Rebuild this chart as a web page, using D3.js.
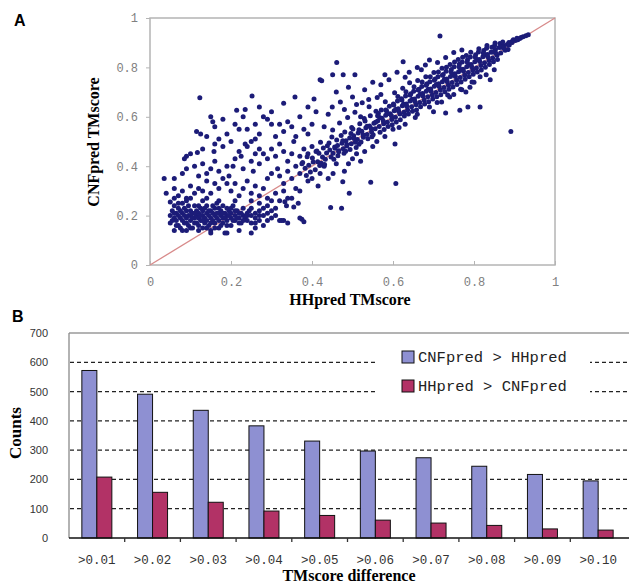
<!DOCTYPE html>
<html><head><meta charset="utf-8">
<script src="https://cdn.jsdelivr.net/npm/d3@7"></script>
<style>body{margin:0;background:#fff}svg{display:block}</style>
</head><body>
<script>
// ---------- Panel A data (HHpred TMscore, CNFpred TMscore) ----------
const scatterTicks = [0, 0.2, 0.4, 0.6, 0.8, 1];
const lowCluster = [
[0.05,0.20],[0.05,0.17],[0.055,0.22],[0.06,0.19],[0.06,0.14],[0.06,0.24],[0.065,0.21],[0.065,0.18],[0.07,0.16],[0.07,0.20],[0.07,0.23],[0.075,0.19],[0.075,0.15],[0.08,0.21],[0.08,0.18],[0.08,0.25],[0.085,0.17],[0.085,0.20],[0.09,0.22],[0.09,0.14],[0.09,0.19],[0.095,0.16],[0.095,0.24],[0.10,0.20],[0.10,0.18],[0.10,0.22],[0.105,0.15],[0.105,0.21],[0.11,0.19],[0.11,0.17],[0.11,0.24],[0.115,0.20],[0.115,0.22],[0.12,0.16],[0.12,0.19],[0.12,0.21],[0.125,0.18],[0.125,0.23],[0.13,0.20],[0.13,0.15],[0.13,0.22],[0.135,0.19],[0.135,0.17],[0.14,0.21],[0.14,0.24],[0.14,0.18],[0.145,0.20],[0.145,0.16],[0.15,0.22],[0.15,0.19],[0.15,0.14],[0.155,0.21],[0.155,0.18],[0.16,0.23],[0.16,0.20],[0.16,0.17],[0.165,0.19],[0.165,0.25],[0.17,0.21],[0.17,0.18],[0.17,0.15],[0.175,0.22],[0.175,0.20],[0.18,0.19],[0.18,0.24],[0.18,0.17],[0.185,0.21],[0.185,0.13],[0.19,0.20],[0.19,0.23],[0.19,0.18],[0.195,0.22],[0.20,0.19],[0.20,0.21],[0.20,0.16],[0.205,0.24],[0.21,0.20],[0.21,0.18],[0.215,0.22],[0.22,0.19],[0.22,0.21],[0.225,0.17],[0.23,0.20],[0.23,0.23],[0.235,0.19],[0.24,0.21],[0.24,0.18],[0.245,0.22],[0.25,0.20],[0.25,0.17],[0.26,0.21],[0.26,0.19],[0.27,0.22],[0.27,0.18],[0.28,0.20],[0.29,0.21],[0.30,0.19],
[0.055,0.18],[0.06,0.21],[0.065,0.16],[0.07,0.25],[0.075,0.22],[0.08,0.14],[0.085,0.23],[0.09,0.17],[0.095,0.20],[0.10,0.15],[0.105,0.19],[0.11,0.21],[0.115,0.17],[0.12,0.24],[0.125,0.20],[0.13,0.18],[0.135,0.23],[0.14,0.15],[0.145,0.22],[0.15,0.17],[0.155,0.24],[0.16,0.15],[0.165,0.21],[0.17,0.23],[0.175,0.16],[0.18,0.21],[0.185,0.19],[0.19,0.16],[0.195,0.20],[0.20,0.23],[0.205,0.18],[0.21,0.22],[0.215,0.19],[0.22,0.17],[0.225,0.21],[0.23,0.18],[0.24,0.20],[0.25,0.23],[0.26,0.17],[0.27,0.20],[0.28,0.23],[0.29,0.18],[0.30,0.22],[0.31,0.20],[0.32,0.18],[0.19,0.13],[0.15,0.13],[0.12,0.14],[0.09,0.26],[0.13,0.26],[0.17,0.26],[0.21,0.26],[0.06,0.27],[0.10,0.27],[0.14,0.27],[0.25,0.26]
];
const upperScatter = [
[0.035,0.35],[0.06,0.35],[0.05,0.255],[0.123,0.677],[0.252,0.684],[0.33,0.655],[0.358,0.68],[0.405,0.672],[0.42,0.75],
[0.115,0.54],[0.125,0.53],[0.14,0.52],[0.155,0.58],[0.16,0.56],[0.15,0.60],[0.214,0.627],[0.235,0.63],[0.22,0.55],[0.24,0.55],[0.26,0.57],[0.28,0.60],[0.29,0.59],[0.30,0.57],[0.32,0.57],[0.34,0.58],[0.24,0.48],[0.235,0.49],[0.25,0.50],[0.27,0.53],[0.26,0.51],[0.10,0.45],[0.09,0.44],[0.085,0.43],[0.117,0.455],[0.158,0.46],[0.18,0.48],[0.16,0.42],[0.14,0.37],[0.18,0.35],[0.195,0.36],[0.19,0.33],[0.205,0.40],[0.21,0.43],[0.225,0.44],[0.23,0.39],[0.255,0.38],[0.27,0.41],[0.29,0.35],[0.30,0.37],[0.315,0.39],[0.32,0.36],[0.33,0.33],[0.34,0.38],[0.35,0.35],[0.36,0.31],[0.37,0.44],[0.375,0.41],[0.38,0.47],[0.39,0.45],[0.40,0.48],[0.41,0.46],[0.355,0.50],[0.36,0.52],[0.38,0.55],[0.39,0.53],[0.40,0.57],[0.37,0.60],[0.41,0.62],[0.39,0.64],
[0.07,0.28],[0.08,0.30],[0.09,0.27],[0.11,0.29],[0.12,0.31],[0.10,0.32],[0.13,0.30],[0.15,0.29],[0.16,0.33],[0.17,0.31],[0.14,0.34],[0.12,0.36],[0.11,0.40],[0.13,0.41],[0.15,0.39],[0.17,0.38],[0.19,0.40],[0.20,0.30],[0.21,0.33],[0.22,0.28],[0.23,0.31],[0.24,0.34],[0.25,0.29],[0.26,0.32],[0.27,0.28],[0.28,0.31],[0.29,0.27],[0.31,0.29],[0.32,0.26],[0.33,0.30],[0.34,0.27],[0.28,0.45],[0.29,0.43],[0.30,0.47],[0.31,0.44],[0.32,0.49],[0.33,0.46],[0.34,0.42],[0.35,0.45],[0.26,0.45],[0.27,0.47],[0.22,0.46],[0.20,0.50],[0.19,0.53],[0.17,0.51],[0.21,0.57],[0.23,0.60],[0.18,0.59],[0.13,0.47],[0.16,0.49],[0.08,0.37],[0.09,0.39],[0.06,0.31],[0.04,0.29],[0.36,0.40],[0.37,0.37],[0.25,0.42],[0.31,0.52],[0.33,0.54],[0.35,0.56],[0.30,0.62],[0.27,0.64]
];
const belowScatter = [
[0.33,0.18],[0.34,0.17],[0.375,0.185],[0.37,0.30],[0.333,0.256],[0.35,0.27],[0.366,0.25],[0.337,0.24],[0.355,0.235],[0.325,0.18],[0.37,0.19],[0.38,0.175],[0.446,0.233],[0.473,0.23],[0.492,0.29],[0.476,0.337],[0.545,0.335],[0.607,0.33],[0.452,0.37],[0.44,0.35],[0.415,0.32],[0.40,0.35],[0.39,0.34],[0.27,0.25],[0.29,0.24],[0.30,0.26],[0.31,0.23],[0.28,0.16],[0.26,0.15],[0.22,0.14],[0.25,0.13],[0.42,0.37],[0.43,0.40],[0.46,0.41],[0.48,0.38],[0.50,0.43],[0.52,0.42],[0.49,0.41],
[0.891,0.54],[0.815,0.64],[0.765,0.627],[0.605,0.49],[0.60,0.55],[0.63,0.57],[0.66,0.61],[0.69,0.64],[0.72,0.66],[0.74,0.68],[0.77,0.71],[0.80,0.74],[0.83,0.77],[0.85,0.79],[0.70,0.62],[0.75,0.69],[0.79,0.72],[0.78,0.70],[0.84,0.75],[0.53,0.46],[0.56,0.50],[0.58,0.52],[0.51,0.45],[0.55,0.48],[0.73,0.615],[0.785,0.64]
];
const diagonalBand = [
[0.383,0.392],[0.377,0.415],[0.386,0.362],[0.392,0.404],[0.396,0.377],[0.388,0.438],[0.403,0.417],[0.408,0.386],[0.401,0.433],[0.412,0.462],[0.414,0.418],[0.419,0.403],[0.417,0.452],[0.426,0.437],[0.423,0.412],[0.428,0.474],[0.421,0.497],[0.433,0.428],[0.436,0.453],[0.438,0.483],[0.431,0.407],[0.444,0.466],[0.447,0.437],[0.442,0.494],[0.449,0.518],[0.452,0.452],[0.456,0.478],[0.454,0.428],[0.451,0.547],[0.463,0.484],[0.466,0.463],[0.461,0.506],[0.468,0.575],[0.464,0.442],[0.474,0.493],[0.477,0.471],[0.472,0.524],[0.479,0.452],[0.484,0.503],[0.486,0.482],[0.481,0.538],[0.488,0.597],[0.483,0.461],[0.493,0.514],[0.497,0.491],[0.494,0.468],[0.498,0.557],[0.503,0.523],[0.507,0.497],[0.501,0.551],[0.506,0.618],[0.509,0.476],[0.514,0.534],[0.512,0.508],[0.518,0.572],[0.516,0.489],[0.523,0.541],[0.527,0.517],[0.521,0.498],[0.529,0.593],[0.524,0.657],[0.533,0.556],[0.536,0.528],[0.531,0.583],[0.538,0.511],[0.542,0.563],[0.547,0.538],[0.544,0.604],[0.548,0.519],[0.541,0.641],[0.553,0.574],[0.556,0.552],[0.551,0.527],[0.558,0.622],[0.562,0.583],[0.566,0.561],[0.564,0.613],[0.568,0.537],[0.561,0.678],[0.573,0.594],[0.577,0.572],[0.571,0.628],[0.578,0.549],[0.582,0.606],[0.586,0.578],[0.584,0.624],[0.588,0.561],[0.581,0.661],[0.593,0.612],[0.597,0.589],[0.591,0.643],[0.598,0.568],[0.603,0.624],[0.606,0.598],[0.601,0.652],[0.608,0.579],[0.604,0.697],[0.613,0.633],[0.617,0.611],[0.611,0.664],[0.618,0.588],[0.615,0.557],[0.623,0.645],[0.627,0.618],[0.621,0.673],[0.628,0.603],[0.624,0.716],[0.633,0.652],[0.636,0.628],[0.631,0.684],[0.638,0.611],[0.642,0.664],[0.646,0.641],[0.644,0.693],[0.648,0.622],[0.641,0.738],[0.653,0.672],[0.657,0.649],[0.651,0.703],[0.658,0.628],[0.655,0.597],[0.662,0.683],[0.666,0.658],[0.664,0.712],[0.668,0.641],[0.661,0.747],[0.673,0.694],[0.677,0.668],[0.671,0.723],[0.678,0.652],[0.682,0.703],[0.686,0.681],[0.684,0.734],[0.688,0.661],[0.681,0.762],[0.693,0.713],[0.697,0.688],[0.691,0.742],[0.698,0.672],[0.702,0.724],[0.706,0.698],[0.704,0.753],[0.708,0.681],[0.701,0.779],[0.709,0.658],[0.713,0.734],[0.717,0.708],[0.711,0.762],[0.718,0.689],[0.722,0.742],[0.726,0.719],[0.724,0.771],[0.728,0.701],[0.721,0.797],[0.733,0.753],[0.737,0.728],[0.731,0.784],[0.738,0.712],[0.735,0.688],[0.742,0.763],[0.746,0.739],[0.744,0.792],[0.748,0.721],[0.741,0.812],[0.753,0.774],[0.757,0.748],[0.751,0.803],[0.758,0.731],[0.762,0.782],[0.766,0.759],[0.764,0.814],[0.768,0.741],[0.761,0.832],[0.767,0.712],[0.773,0.793],[0.777,0.768],[0.771,0.822],[0.778,0.752],[0.782,0.803],[0.786,0.779],[0.784,0.831],[0.788,0.762],[0.781,0.848],[0.793,0.812],[0.797,0.788],[0.791,0.842],[0.798,0.772],[0.795,0.741],[0.802,0.823],[0.806,0.798],[0.804,0.851],[0.808,0.781],[0.813,0.832],[0.817,0.808],[0.811,0.862],[0.818,0.789],[0.815,0.762],[0.822,0.843],[0.826,0.819],[0.824,0.868],[0.828,0.801],[0.833,0.852],[0.837,0.828],[0.831,0.878],[0.838,0.812],[0.842,0.861],[0.846,0.838],[0.844,0.882],[0.848,0.823],[0.853,0.872],[0.857,0.849],[0.851,0.889],[0.858,0.832],[0.862,0.881],[0.866,0.858],[0.864,0.897],[0.873,0.888],[0.877,0.869],[0.871,0.903],[0.882,0.893],[0.886,0.901],[0.884,0.872],[0.893,0.904],[0.897,0.912],[0.902,0.909],[0.906,0.918],[0.913,0.917],[0.921,0.924],[0.928,0.928],
[0.557,0.578],[0.567,0.597],[0.576,0.583],[0.587,0.612],[0.596,0.604],[0.607,0.631],[0.614,0.622],[0.626,0.652],[0.634,0.643],[0.647,0.671],[0.654,0.662],[0.667,0.692],[0.674,0.684],[0.687,0.712],[0.694,0.703],[0.707,0.731],[0.714,0.723],[0.727,0.752],[0.734,0.742],[0.747,0.772],[0.754,0.763],[0.767,0.791],[0.774,0.784],[0.787,0.812],[0.794,0.803],[0.807,0.832],[0.814,0.824],[0.827,0.851],[0.834,0.843],[0.847,0.862],[0.854,0.857],[0.867,0.882],[0.874,0.878],[0.887,0.891],[0.894,0.901],[0.908,0.912],[0.916,0.921],[0.934,0.932],
[0.457,0.473],[0.466,0.458],[0.476,0.503],[0.486,0.488],[0.496,0.532],[0.504,0.512],[0.516,0.548],[0.526,0.527],[0.536,0.562],[0.546,0.553],
[0.612,0.682],[0.632,0.701],[0.652,0.722],[0.672,0.741],[0.692,0.762],[0.712,0.781],[0.732,0.801],[0.752,0.822],[0.772,0.841],[0.792,0.861],[0.812,0.876],[0.832,0.889],[0.852,0.899],
[0.722,0.768],[0.743,0.782],[0.763,0.803],[0.783,0.822],[0.803,0.842],[0.823,0.858],[0.702,0.748],[0.682,0.728],[0.662,0.709],[0.642,0.688],[0.622,0.668],[0.602,0.648],[0.582,0.628],[0.562,0.604]
];
const aboveScatter = [
[0.45,0.64],[0.47,0.66],[0.50,0.68],[0.53,0.71],[0.55,0.74],[0.57,0.73],[0.58,0.77],[0.59,0.75],[0.61,0.78],[0.44,0.61],[0.46,0.70],[0.49,0.72],[0.52,0.60],[0.43,0.56],[0.625,0.823],[0.461,0.82],[0.451,0.77],[0.477,0.77],[0.506,0.77],[0.424,0.746],[0.716,0.927],[0.66,0.80],[0.64,0.78],[0.68,0.81],[0.63,0.76],[0.67,0.79],[0.71,0.82],[0.73,0.84],[0.75,0.86],[0.77,0.87],[0.69,0.83],[0.48,0.63],[0.51,0.65],[0.54,0.67],[0.57,0.69]
];

// ---------- Panel B data ----------
const categories = [">0.01",">0.02",">0.03",">0.04",">0.05",">0.06",">0.07",">0.08",">0.09",">0.10"];
const cnfBetter = [572, 491, 436, 383, 331, 297, 274, 245, 217, 195];
const hhBetter  = [208, 156, 122, 92, 77, 61, 51, 43, 31, 27];
const seriesNames = ["CNFpred > HHpred", "HHpred > CNFpred"];
const countTicks = [0,100,200,300,400,500,600,700];

const W = 629, H = 586;
const svg = d3.select("body").append("svg").attr("width", W).attr("height", H);

// ================= Panel A =================
const xA = d3.scaleLinear().domain([0,1]).range([150,555]);
const yA = d3.scaleLinear().domain([0,1]).range([265,18]);
const monoFont = "'Liberation Mono','DejaVu Sans Mono',monospace";
const serifFont = "'Liberation Serif','Times New Roman',serif";

svg.append("rect").attr("x",xA(0)).attr("y",yA(1)).attr("width",xA(1)-xA(0)).attr("height",yA(0)-yA(1))
  .attr("fill","#fff").attr("stroke","#b4b4b4").attr("stroke-width",1.5);

const fmt = d=>d===0||d===1?String(d):d.toFixed(1);
const gxA = svg.append("g").attr("transform",`translate(0,${yA(0)})`)
  .call(d3.axisBottom(xA).tickValues(scatterTicks).tickSize(-4).tickPadding(12).tickFormat(fmt));
const gyA = svg.append("g").attr("transform",`translate(${xA(0)},0)`)
  .call(d3.axisLeft(yA).tickValues(scatterTicks).tickSize(4).tickPadding(8).tickFormat(fmt));
[gxA,gyA].forEach(g=>{
  g.select(".domain").remove();
  g.selectAll(".tick line").attr("stroke","#b4b4b4");
  g.selectAll("text").attr("font-family",monoFont).attr("font-size",12).attr("fill","#808080");
});

const allPts = [].concat(lowCluster, upperScatter, belowScatter, diagonalBand, aboveScatter);
svg.append("line").attr("x1",xA(0)).attr("y1",yA(0)).attr("x2",xA(1)).attr("y2",yA(1))
  .attr("stroke","#d88a8a").attr("stroke-width",1.3);
svg.append("g").selectAll("circle").data(allPts).enter().append("circle")
  .attr("cx",d=>xA(d[0])).attr("cy",d=>yA(d[1])).attr("r",2.5).attr("fill","#1c1c78");

svg.append("text").attr("x",350).attr("y",305).attr("text-anchor","middle")
  .attr("font-family",serifFont).attr("font-weight","bold").attr("font-size",16).text("HHpred TMscore");
svg.append("text").attr("transform","translate(99,142) rotate(-90)").attr("text-anchor","middle")
  .attr("font-family",serifFont).attr("font-weight","bold").attr("font-size",16).text("CNFpred TMscore");
svg.append("text").attr("x",14).attr("y",26).attr("font-family","'Liberation Sans',Arial,sans-serif")
  .attr("font-weight","bold").attr("font-size",16).text("A");

// ================= Panel B =================
const xB = d3.scaleBand().domain(categories).range([69,626]).paddingInner(0).paddingOuter(0);
const yB = d3.scaleLinear().domain([0,700]).range([538,333]);
const barW = 15;

svg.append("line").attr("x1",69).attr("x2",629).attr("y1",yB(700)).attr("y2",yB(700)).attr("stroke","#9a9a9a").attr("stroke-width",1.3);
svg.append("line").attr("x1",69).attr("x2",69).attr("y1",yB(700)).attr("y2",yB(0)).attr("stroke","#8a8a8a").attr("stroke-width",1.3);

svg.append("g").selectAll("line").data(countTicks.filter(t=>t>0&&t<700)).enter().append("line")
  .attr("x1",70).attr("x2",629).attr("y1",d=>yB(d)).attr("y2",d=>yB(d))
  .attr("stroke","#222").attr("stroke-width",1.2).attr("stroke-dasharray","4,3");

const gyB = svg.append("g").attr("transform","translate(69,0)")
  .call(d3.axisLeft(yB).tickValues(countTicks).tickSize(0).tickPadding(21));
gyB.select(".domain").remove();
gyB.selectAll("text").attr("font-family","'Liberation Sans',Arial,sans-serif").attr("font-size",11).attr("fill","#333");

svg.append("rect").attr("x",375).attr("y",343).attr("width",215).attr("height",55).attr("fill","#fff");

const bars = svg.append("g");
bars.selectAll(".b1").data(categories).enter().append("rect")
  .attr("x",d=>xB(d)+xB.bandwidth()/2-barW).attr("width",barW)
  .attr("y",(d,i)=>yB(cnfBetter[i])).attr("height",(d,i)=>yB(0)-yB(cnfBetter[i]))
  .attr("fill","#8e90d2").attr("stroke","#111").attr("stroke-width",1);
bars.selectAll(".b2").data(categories).enter().append("rect")
  .attr("x",d=>xB(d)+xB.bandwidth()/2).attr("width",barW)
  .attr("y",(d,i)=>yB(hhBetter[i])).attr("height",(d,i)=>yB(0)-yB(hhBetter[i]))
  .attr("fill","#b23266").attr("stroke","#111").attr("stroke-width",1);

const gxB = svg.append("g").attr("transform",`translate(0,${yB(0)})`)
  .call(d3.axisBottom(xB).tickSize(0).tickPadding(17));
gxB.select(".domain").attr("stroke","#111").attr("stroke-width",1.5).attr("d",`M69,0H629`);
gxB.selectAll("text").attr("font-family",monoFont).attr("font-size",12.5).attr("fill","#333");
svg.append("g").selectAll("line").data(categories.slice(1)).enter().append("line")
  .attr("x1",d=>xB(d)).attr("x2",d=>xB(d)).attr("y1",yB(0)).attr("y2",yB(0)+4)
  .attr("stroke","#333").attr("stroke-width",1.3);

const legColors = ["#8e90d2","#b23266"];
seriesNames.forEach((name,i)=>{
  const ly = 357 + i*29;
  svg.append("rect").attr("x",402).attr("y",ly-6).attr("width",12).attr("height",12)
    .attr("fill",legColors[i]).attr("stroke","#111").attr("stroke-width",1);
  svg.append("text").attr("x",418).attr("y",ly+5).attr("font-family",monoFont).attr("font-size",15.5)
    .attr("fill","#222").text(name);
});

svg.append("text").attr("x",349).attr("y",581).attr("text-anchor","middle")
  .attr("font-family",serifFont).attr("font-weight","bold").attr("font-size",16).text("TMscore difference");
svg.append("text").attr("transform","translate(21,433) rotate(-90)").attr("text-anchor","middle")
  .attr("font-family",serifFont).attr("font-weight","bold").attr("font-size",17).text("Counts");
svg.append("text").attr("x",12).attr("y",322).attr("font-family","'Liberation Sans',Arial,sans-serif")
  .attr("font-weight","bold").attr("font-size",16).text("B");
</script>
</body></html>
